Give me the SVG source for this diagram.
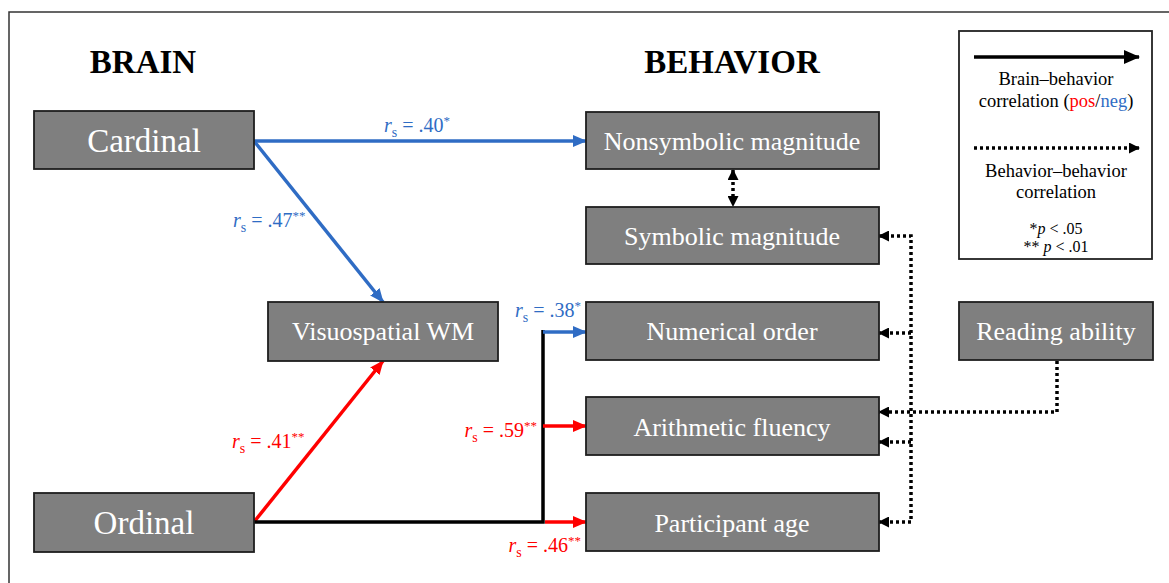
<svg xmlns="http://www.w3.org/2000/svg" width="1169" height="583" viewBox="0 0 1169 583">
<defs>
<style>
.node rect{fill:#7f7f7f;stroke:#1e1e1e;stroke-width:1.8}
.node text{fill:#fff;font-family:"Liberation Serif","Times New Roman",serif;font-size:26px;text-anchor:middle}
.node text.big{font-size:33px}
.head{font-family:"Liberation Serif","Times New Roman",serif;font-size:33px;font-weight:bold;fill:#000;text-anchor:middle}
.lbl{font-family:"Liberation Serif","Times New Roman",serif;font-size:20px}
.blue{fill:#2f6cc4}
.red{fill:#ff0000}
.leg{font-family:"Liberation Serif","Times New Roman",serif;font-size:18.5px;fill:#000;text-anchor:middle}
.legs{font-family:"Liberation Serif","Times New Roman",serif;font-size:16px;fill:#000;text-anchor:middle}
.sb{stroke:#2f6cc4;stroke-width:3.5;fill:none}
.sr{stroke:#ff0000;stroke-width:3.5;fill:none}
.sk{stroke:#000;stroke-width:3.5;fill:none}
.dot{stroke:#000;stroke-width:3.5;fill:none;stroke-dasharray:3 3}
</style>
<marker id="ab" markerUnits="userSpaceOnUse" markerWidth="14" markerHeight="12" refX="13" refY="6" orient="auto"><path d="M0,0 L14,6 L0,12 Z" fill="#2f6cc4"/></marker>
<marker id="ar" markerUnits="userSpaceOnUse" markerWidth="14" markerHeight="12" refX="13" refY="6" orient="auto"><path d="M0,0 L14,6 L0,12 Z" fill="#ff0000"/></marker>
<marker id="ak" markerUnits="userSpaceOnUse" markerWidth="16" markerHeight="14" refX="15" refY="7" orient="auto"><path d="M0,0 L16,7 L0,14 Z" fill="#000"/></marker>
<marker id="ad" markerUnits="userSpaceOnUse" markerWidth="11" markerHeight="11" refX="10" refY="5.5" orient="auto-start-reverse"><path d="M0,0 L11,5.5 L0,11 Z" fill="#000"/></marker>
</defs>
<rect x="9" y="12" width="1180" height="600" fill="#fff" stroke="#333" stroke-width="1.5"/>

<text class="head" x="143" y="73">BRAIN</text>
<text class="head" x="732" y="73">BEHAVIOR</text>

<g id="connectors">
<line class="sb" x1="254" y1="141" x2="586" y2="141" marker-end="url(#ab)"/>
<line class="sb" x1="254" y1="141" x2="383" y2="302" marker-end="url(#ab)"/>
<line class="sr" x1="254" y1="522" x2="383" y2="361" marker-end="url(#ar)"/>
<polyline class="sk" points="254,522 543,522 543,330"/>
<line class="sb" x1="543" y1="332" x2="586" y2="332" marker-end="url(#ab)"/>
<line class="sr" x1="543" y1="426" x2="586" y2="426" marker-end="url(#ar)"/>
<line class="sr" x1="545" y1="522" x2="586" y2="522" marker-end="url(#ar)"/>
<line class="dot" x1="733" y1="170" x2="733" y2="206" marker-start="url(#ad)" marker-end="url(#ad)"/>
<polyline class="dot" points="879,236 911,236 911,522 879,522" marker-start="url(#ad)" marker-end="url(#ad)"/>
<line class="dot" x1="911" y1="333" x2="879" y2="333" marker-end="url(#ad)"/>
<line class="dot" x1="911" y1="442" x2="879" y2="442" marker-end="url(#ad)"/>
<polyline class="dot" points="1057,361 1057,412 879,412" marker-end="url(#ad)"/>
</g>

<g id="labels">
<text class="lbl blue" x="384" y="132"><tspan font-style="italic">r</tspan><tspan font-size="14" dy="5">s</tspan><tspan dy="-5"> = .40</tspan><tspan font-size="13" dy="-7">*</tspan></text>
<text class="lbl blue" x="233" y="227"><tspan font-style="italic">r</tspan><tspan font-size="14" dy="5">s</tspan><tspan dy="-5"> = .47</tspan><tspan font-size="13" dy="-7">**</tspan></text>
<text class="lbl blue" x="515" y="317"><tspan font-style="italic">r</tspan><tspan font-size="14" dy="5">s</tspan><tspan dy="-5"> = .38</tspan><tspan font-size="13" dy="-7">*</tspan></text>
<text class="lbl red" x="232" y="448"><tspan font-style="italic">r</tspan><tspan font-size="14" dy="5">s</tspan><tspan dy="-5"> = .41</tspan><tspan font-size="13" dy="-7">**</tspan></text>
<text class="lbl red" x="537" y="437" text-anchor="end"><tspan font-style="italic">r</tspan><tspan font-size="14" dy="5">s</tspan><tspan dy="-5"> = .59</tspan><tspan font-size="13" dy="-7">**</tspan></text>
<text class="lbl red" x="581" y="552" text-anchor="end"><tspan font-style="italic">r</tspan><tspan font-size="14" dy="5">s</tspan><tspan dy="-5"> = .46</tspan><tspan font-size="13" dy="-7">**</tspan></text>
</g>

<g id="cardinal" class="node"><rect x="34" y="111" width="220" height="58"/><text class="big" x="144" y="152">Cardinal</text></g>
<g id="ordinal" class="node"><rect x="34" y="493" width="220" height="59"/><text class="big" x="144" y="534">Ordinal</text></g>
<g id="visuospatial" class="node"><rect x="268" y="302" width="230" height="59"/><text x="383" y="340">Visuospatial WM</text></g>
<g id="nonsymbolic" class="node"><rect x="586" y="112" width="293" height="57"/><text x="732" y="150">Nonsymbolic magnitude</text></g>
<g id="symbolic" class="node"><rect x="586" y="207" width="293" height="57"/><text x="732" y="245">Symbolic magnitude</text></g>
<g id="numerical" class="node"><rect x="586" y="302" width="293" height="58"/><text x="732" y="340">Numerical order</text></g>
<g id="arithmetic" class="node"><rect x="586" y="397" width="293" height="58"/><text x="732" y="436">Arithmetic fluency</text></g>
<g id="age" class="node"><rect x="586" y="493" width="293" height="58"/><text x="732" y="532">Participant age</text></g>
<g id="reading" class="node"><rect x="959" y="302" width="194" height="58"/><text x="1056" y="340">Reading ability</text></g>

<g id="legend">
<rect x="959" y="31" width="193" height="228" fill="#fff" stroke="#222" stroke-width="1.8"/>
<line class="sk" x1="974" y1="57" x2="1139" y2="57" stroke-width="4" marker-end="url(#ak)"/>
<text class="leg" x="1056" y="85">Brain–behavior</text>
<text class="leg" x="1056" y="107">correlation (<tspan class="red">pos</tspan>/<tspan class="blue">neg</tspan>)</text>
<line class="dot" x1="974" y1="148" x2="1139" y2="148" marker-end="url(#ad)"/>
<text class="leg" x="1056" y="177">Behavior–behavior</text>
<text class="leg" x="1056" y="198">correlation</text>
<text class="legs" x="1056" y="234">*<tspan font-style="italic">p</tspan> &lt; .05</text>
<text class="legs" x="1056" y="252">** <tspan font-style="italic">p</tspan> &lt; .01</text>
</g>
</svg>
